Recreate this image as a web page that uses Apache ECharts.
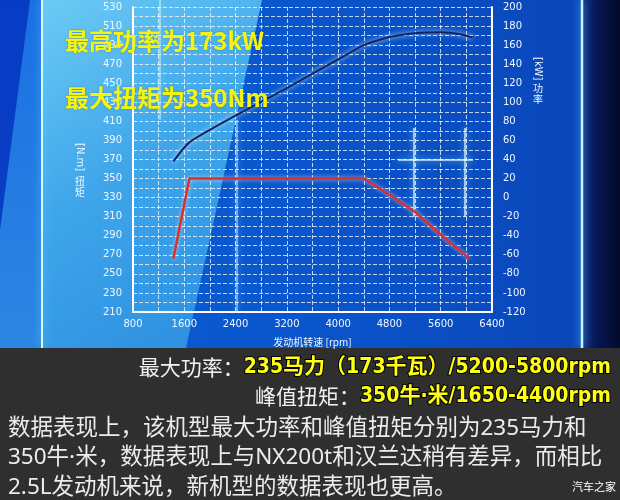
<!DOCTYPE html>
<html><head><meta charset="utf-8">
<script src="https://cdn.jsdelivr.net/npm/echarts@6/dist/echarts.min.js"></script>
<style>html,body{margin:0;padding:0;background:#2f2f2f}#c{width:620px;height:500px}</style>
</head><body><div id="c"></div><script>
// ---- data ----
const rpmAxis = {min: 800, max: 6400, step: 800};
const torqueAxis = {min: 210, max: 530, step: 20};
const powerAxis = {min: -120, max: 200, step: 20};
const torqueRpm = [1430, 1680, 4400, 4800, 5200, 5600, 6050];
const torqueNm  = [266, 350, 350, 333, 315, 291, 266];
const powerRpm  = [1430, 1680, 2400, 3200, 4000, 4400, 4800, 5200, 5600, 5900, 6100];
const powerKw   = [38, 58, 86, 115, 145, 160, 168.5, 172.5, 173.5, 171.5, 168];
const headline1 = '最高功率为173kW';
const headline2 = '最大扭矩为350Nm';
const xName = '发动机转速 [rpm]';
const leftNameLatin = '[N.m]', leftNameCjk = '扭\n矩';
const rightNameLatin = '[kW]', rightNameCjk = '功\n率';
const spec1Label = '最大功率：', spec1Value = '235马力（173千瓦）/5200-5800rpm';
const spec2Label = '峰值扭矩：', spec2Value = '350牛·米/1650-4400rpm';
const bodyLines = [
  '数据表现上，该机型最大功率和峰值扭矩分别为235马力和',
  '350牛·米，数据表现上与NX200t和汉兰达稍有差异，而相比',
  '2.5L发动机来说，新机型的数据表现也更高。'
];
const watermark = '汽车之家';

const chart = echarts.init(document.getElementById('c'), null, {renderer: 'canvas'});
const zip = (a, b) => a.map((v, i) => [v, b[i]]);
const cjk = "'Noto Sans CJK SC','Noto Sans',sans-serif";
const latinCjk = "'Noto Sans','Noto Sans CJK SC',sans-serif";
const tickFont = () => ({color: '#eef8ff', fontSize: 10, fontFamily: "'DejaVu Sans',sans-serif", formatter: v => String(v)});
const dash = () => ({show: true, lineStyle: {color: 'rgba(240,250,255,0.78)', width: 1, type: 'dashed', dashOffset: 0}});
const glow = (x1, y1, x2, y2, op) => ({type: 'line', silent: true,
  shape: {x1, y1, x2, y2},
  style: {stroke: 'rgba(235,255,255,' + op + ')', lineWidth: 1.5, shadowBlur: 6, shadowColor: '#7fe6ff'}});

const bg = [
  {type: 'rect', silent: true, shape: {x: 0, y: 0, width: 620, height: 348},
   style: {fill: new echarts.graphic.LinearGradient(0, 0, 1, 0, [
     {offset: 0, color: '#0b5fd6'}, {offset: 0.5, color: '#0a55cc'}, {offset: 0.9, color: '#0a48bb'}, {offset: 1, color: '#0a45b5'}])}},
  {type: 'rect', silent: true, shape: {x: 0, y: 0, width: 42, height: 348},
   style: {fill: new echarts.graphic.LinearGradient(0, 0, 0, 1, [
     {offset: 0, color: '#1a6fe2'}, {offset: 1, color: '#2d86e2'}])}},
  {type: 'polygon', silent: true, shape: {points: [[0, 0], [30, 0], [0, 230]]},
   style: {fill: 'rgba(4,50,190,0.85)'}},
  {type: 'polygon', silent: true, shape: {points: [[42, 0], [262, 0], [186, 348], [42, 348]]},
   style: {fill: new echarts.graphic.LinearGradient(0, 0, 1, 1, [
     {offset: 0, color: '#6ccaf4'}, {offset: 0.45, color: '#3fa6ea'}, {offset: 1, color: '#2a8ce0'}])}},
  {type: 'rect', silent: true, shape: {x: 583, y: 0, width: 37, height: 348},
   style: {fill: new echarts.graphic.LinearGradient(0, 0, 1, 0, [
     {offset: 0, color: '#0a2a80'}, {offset: 0.4, color: '#061650'}, {offset: 1, color: '#030a2a'}])}},
  {type: 'line', silent: true, shape: {x1: 42, y1: 0, x2: 42, y2: 348},
   style: {stroke: '#d6f8ff', lineWidth: 2, shadowBlur: 8, shadowColor: '#5fd0ff'}},
  {type: 'line', silent: true, shape: {x1: 582, y1: 0, x2: 582, y2: 348},
   style: {stroke: '#c8f2ff', lineWidth: 2.5, shadowBlur: 8, shadowColor: '#5fd0ff'}},
  glow(160, 0, 160, 120, 0.55),
  glow(237, 120, 237, 312, 0.6),
  glow(414, 128, 414, 217, 0.85),
  glow(465, 128, 465, 217, 0.85),
  glow(398, 160, 473, 160, 0.85),
  // vertical axis names
  {type: 'text', x: 80, y: 143, rotation: -Math.PI / 2,
   style: {text: leftNameLatin, fill: '#eef8ff', font: "10px 'DejaVu Sans',sans-serif", align: 'left', verticalAlign: 'middle'}},
  {type: 'text', x: 80, y: 176,
   style: {text: leftNameCjk, fill: '#eef8ff', font: "10px " + cjk, lineHeight: 11, align: 'center', verticalAlign: 'top'}},
  {type: 'text', x: 538, y: 57, rotation: -Math.PI / 2,
   style: {text: rightNameLatin, fill: '#eef8ff', font: "10px 'DejaVu Sans',sans-serif", align: 'left', verticalAlign: 'middle'}},
  {type: 'text', x: 538, y: 83,
   style: {text: rightNameCjk, fill: '#eef8ff', font: "10px " + cjk, lineHeight: 11, align: 'center', verticalAlign: 'top'}},
  {type: 'rect', silent: true, shape: {x: 0, y: 348, width: 620, height: 152}, style: {fill: '#2f2f2f'}}
];

const specRich = {
  a: {color: '#f2f2f2', fontSize: 21, fontWeight: 'normal', fontFamily: cjk},
  b: {color: '#ffff14', fontSize: 21, fontWeight: 'bold', fontFamily: "'DejaVu Sans Condensed'," + cjk,
      textBorderColor: '#000', textBorderWidth: 2}
};
const ZL = 1;
const titles = [
  {text: headline1, left: 65, top: 29, padding: 0, zlevel: ZL,
   textStyle: {color: '#f4f40c', fontSize: 24, fontWeight: 'bold', fontFamily: cjk, textShadowColor: 'rgba(0,0,0,0.3)', textShadowBlur: 2}},
  {text: headline2, left: 65, top: 86, padding: 0, zlevel: ZL,
   textStyle: {color: '#f4f40c', fontSize: 24, fontWeight: 'bold', fontFamily: cjk, textShadowColor: 'rgba(0,0,0,0.3)', textShadowBlur: 2}},
  {text: '{a|' + spec1Label + '}{b|' + spec1Value + '}', right: 8, top: 357, padding: 0, zlevel: ZL, textStyle: {rich: specRich}},
  {text: '{a|' + spec2Label + '}{b|' + spec2Value + '}', right: 8, top: 386, padding: 0, zlevel: ZL, textStyle: {rich: specRich}},
  ...bodyLines.map((t, i) => ({text: t, left: 8, top: 417 + i * 29.5, padding: 0, zlevel: ZL,
    textStyle: {color: '#ececec', fontSize: 22.5, fontWeight: 'normal', fontFamily: latinCjk}})),
  {text: watermark, right: 4, top: 481, padding: 0, zlevel: ZL, textStyle: {color: '#ffffff', fontSize: 11, fontWeight: 'normal', fontFamily: cjk}}
];

chart.setOption({
  animation: false,
  backgroundColor: 'transparent',
  graphic: {zlevel: 0, z: 0, elements: bg},
  title: titles,
  grid: {left: 133, right: 128, top: 7, bottom: 188, containLabel: false, zlevel: ZL},
  xAxis: {
    type: 'value', min: rpmAxis.min, max: rpmAxis.max, interval: rpmAxis.step, zlevel: ZL,
    name: xName, nameLocation: 'middle', nameGap: 25,
    nameTextStyle: {color: '#eef8ff', fontSize: 10, fontFamily: cjk},
    axisLine: {show: true, onZero: false, lineStyle: {color: '#ffffff', width: 2}},
    axisTick: {show: false},
    axisLabel: Object.assign({margin: 7}, tickFont()),
    splitLine: dash(),
    minorTick: {show: false, splitNumber: 2},
    minorSplitLine: dash()
  },
  yAxis: [{
    type: 'value', position: 'left', min: torqueAxis.min, max: torqueAxis.max, interval: torqueAxis.step, zlevel: ZL,
    axisLine: {show: true, onZero: false, lineStyle: {color: '#ffffff', width: 2}},
    axisTick: {show: false},
    axisLabel: Object.assign({margin: 11}, tickFont()),
    splitLine: dash(),
    minorTick: {show: false, splitNumber: 2},
    minorSplitLine: dash()
  }, {
    type: 'value', position: 'right', min: powerAxis.min, max: powerAxis.max, interval: powerAxis.step, zlevel: ZL,
    axisLine: {show: true, onZero: false, lineStyle: {color: '#ffffff', width: 2}},
    axisTick: {show: false},
    axisLabel: Object.assign({margin: 11}, tickFont()),
    splitLine: {show: false}
  }],
  series: [{
    type: 'line', name: 'torque', yAxisIndex: 0, data: zip(torqueRpm, torqueNm), zlevel: ZL,
    symbol: 'none', smooth: false, z: 5,
    lineStyle: {color: '#d8302c', width: 2.5, shadowBlur: 4, shadowColor: 'rgba(255,220,220,0.7)'}
  }, {
    type: 'line', name: 'power', yAxisIndex: 1, data: zip(powerRpm, powerKw), zlevel: ZL,
    symbol: 'none', smooth: 0.2, z: 5,
    lineStyle: {color: '#16245e', width: 2, shadowBlur: 5, shadowColor: 'rgba(190,240,255,0.95)'}
  }]
});
</script></body></html>
